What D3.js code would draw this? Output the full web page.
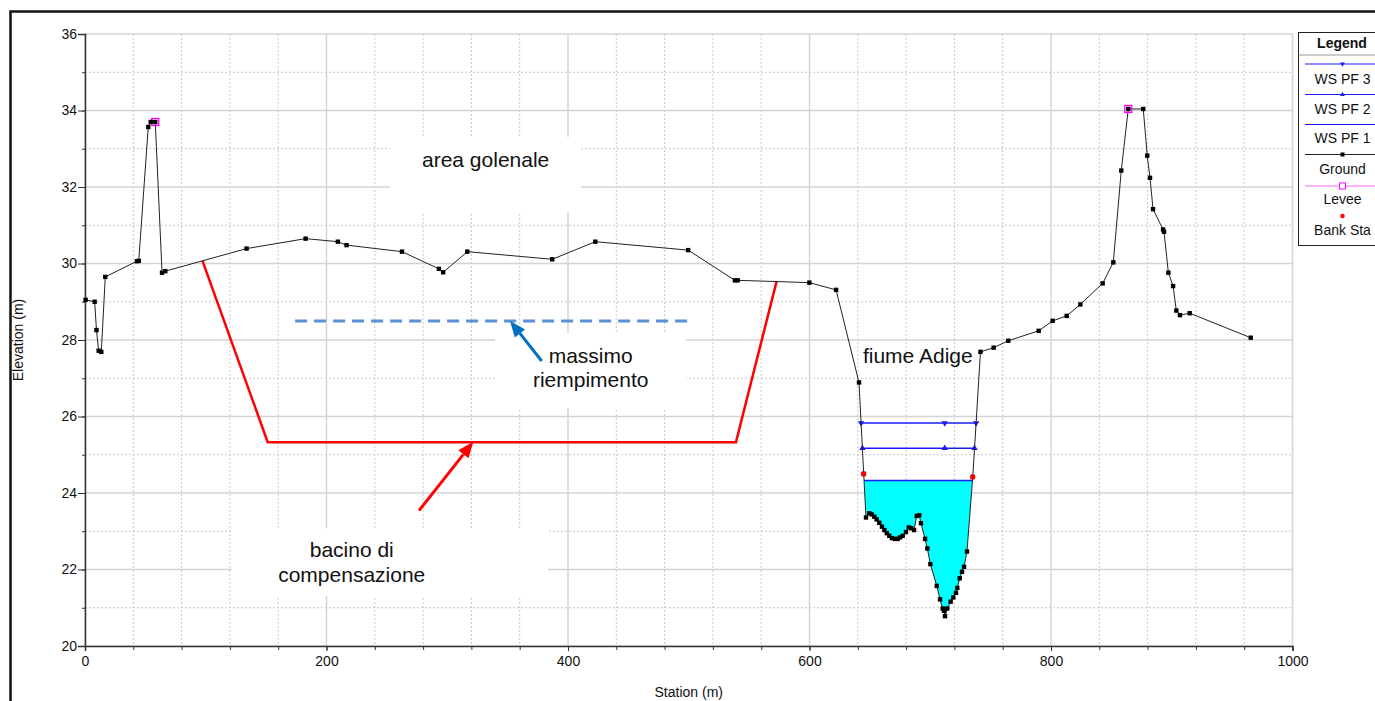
<!DOCTYPE html>
<html><head><meta charset="utf-8">
<script src="https://cdn.jsdelivr.net/npm/d3@7"></script>
<style>
html,body{margin:0;padding:0;background:#fff;overflow:hidden}
svg{display:block;font-family:"Liberation Sans",Arial,sans-serif}
</style></head><body>
<svg id="chart" width="1375" height="701"></svg>
<script>
// Cross section: ground survey points (station m, elevation m)
const groundStation = [0.5, 8, 9.5, 11.3, 13.5, 16.8, 43, 44.5, 52.4, 54.4, 58.2, 63.8, 66.5,
  133.8, 182.7, 209.4, 216.6, 262.5, 293.1, 296.6, 316.6, 386.9, 422.6, 499.5, 538.2, 540.5,
  599.9, 622, 641, 644.9, 646.8, 649.5, 651.5, 653.7, 655.6, 657.8, 660, 662, 664, 666.1,
  668.3, 670.8, 673, 675, 677.2, 679.9, 682.2, 684.3, 686.6, 688.8, 690.9, 692.3, 695.7,
  697.6, 700.1, 705.4, 708.1, 710.3, 711.4, 712.2, 714.1, 716.9, 719.1, 721.3, 722.4,
  724.4, 726.3, 728, 730.4, 735.2, 741.6, 752.5, 764.6, 789.8, 801.4, 813, 824.3, 842.8,
  851.6, 858.2, 864, 876.4, 879.7, 882, 884.5, 892.8, 893.6, 897.2, 901.1, 903.8, 906.8,
  914.9, 965.4];
const groundElevation = [29.05, 29.0, 28.26, 27.72, 27.69, 29.65, 30.06, 30.07, 33.57, 33.70, 33.70, 29.76, 29.80,
  30.39, 30.65, 30.57, 30.48, 30.31, 29.86, 29.77, 30.31, 30.11, 30.57, 30.35, 29.56, 29.56,
  29.50, 29.31, 26.89, 24.50, 23.36, 23.47, 23.44, 23.38, 23.31, 23.22, 23.12, 23.03, 22.95, 22.88,
  22.82, 22.80, 22.80, 22.84, 22.88, 22.98, 23.10, 23.08, 23.03, 23.40, 23.42, 23.21, 22.80,
  22.55, 22.14, 21.57, 21.22, 20.98, 20.92, 20.78, 20.98, 21.16, 21.27, 21.39, 21.52,
  21.77, 21.94, 22.07, 22.47, 24.42, 27.69, 27.80, 27.98, 28.24, 28.50, 28.63, 28.93, 29.48,
  30.03, 32.43, 34.04, 34.04, 32.82, 32.24, 31.42, 30.89, 30.83, 29.76, 29.41, 28.77, 28.65,
  28.70, 28.06];

const leveeStation = [58.2, 864];
const leveeElevation = [33.70, 34.04];
const bankStation = [644.9, 735.2];
const bankElevation = [24.50, 24.42];

// Water surface profiles
const wsProfiles = ["WS PF 3", "WS PF 2", "WS PF 1"];
const wsElevation = [25.83, 25.17, 24.33];
const wsMarkerStation = 712;

// Compensation basin outline and maximum filling level
const basinStation = [97.3, 151.3, 539.1, 572.8];
const basinElevation = [30.07, 25.33, 25.33, 29.54];
const maxFillStation = [174, 504];
const maxFillElevation = 28.5;

// Axis ticks
const xTicks = [0, 200, 400, 600, 800, 1000];
const xMinorTicks = d3.range(0, 1001, 40);
const yTicks = [20, 22, 24, 26, 28, 30, 32, 34, 36];
const yMinorTicks = d3.range(20, 37, 1);

const legendLabels = ["WS PF 3", "WS PF 2", "WS PF 1", "Ground", "Levee", "Bank Sta"];

const svg = d3.select("#chart");
const W = 1375, H = 701;
const x = d3.scaleLinear().domain([0, 1000]).range([85, 1292.5]);
const y = d3.scaleLinear().domain([20, 36]).range([646, 34]);

const ground = groundStation.map((s, i) => [s, groundElevation[i]]);

// outer frame
svg.append("rect").attr("x", 10.5).attr("y", 11.5).attr("width", W + 20).attr("height", H + 20)
  .attr("fill", "#fff").attr("stroke", "#111").attr("stroke-width", 2.5);

// grid
const grid = svg.append("g");
xMinorTicks.filter(v => v % 200 !== 0).forEach(v => {
  grid.append("line").attr("x1", x(v)).attr("x2", x(v)).attr("y1", y(36)).attr("y2", y(20))
    .attr("stroke", "#c8c8c8").attr("stroke-width", 1).attr("stroke-dasharray", "2,2");
});
yMinorTicks.filter(v => v % 2 !== 0).forEach(v => {
  grid.append("line").attr("x1", x(0)).attr("x2", x(1000)).attr("y1", y(v)).attr("y2", y(v))
    .attr("stroke", "#c8c8c8").attr("stroke-width", 1).attr("stroke-dasharray", "2,2");
});
xTicks.forEach(v => {
  grid.append("line").attr("x1", x(v)).attr("x2", x(v)).attr("y1", y(36)).attr("y2", y(20))
    .attr("stroke", "#d4d4d4").attr("stroke-width", 1.5);
});
yTicks.forEach(v => {
  grid.append("line").attr("x1", x(0)).attr("x2", x(1000)).attr("y1", y(v)).attr("y2", y(v))
    .attr("stroke", "#d4d4d4").attr("stroke-width", 1.5);
});

// annotation text boxes (white background hides the grid behind)
const notes = [
  { lines: ["area golenale"], s0: 252.6, s1: 410.8, e0: 33.31, e1: 31.35, cs: 331.8, base: [32.53] },
  { lines: ["massimo", "riempimento"], s0: 339.5, s1: 497.7, e0: 28.18, e1: 26.22, cs: 418.8, base: [27.40, 26.77] },
  { lines: ["bacino di", "compensazione"], s0: 121.5, s1: 383.4, e0: 23.08, e1: 21.30, cs: 220.9, base: [22.33, 21.68] }
];
notes.forEach(n => {
  svg.append("rect").attr("x", x(n.s0)).attr("y", y(n.e0))
    .attr("width", x(n.s1) - x(n.s0)).attr("height", y(n.e1) - y(n.e0)).attr("fill", "#fff");
});

// axes
const axisColor = "#333";
const gx = svg.append("g").attr("transform", `translate(0,${y(20)})`);
gx.call(d3.axisBottom(x).tickValues(xMinorTicks).tickSize(4).tickFormat(""));
gx.call(g => g.selectAll("path").remove());
const gx2 = svg.append("g").attr("transform", `translate(0,${y(20)})`)
  .call(d3.axisBottom(x).tickValues(xTicks).tickSize(5).tickPadding(5).tickFormat(d3.format("d")));
const gy = svg.append("g").attr("transform", `translate(${x(0)},0)`);
gy.call(d3.axisLeft(y).tickValues(yMinorTicks).tickSize(3).tickFormat(""));
gy.call(g => g.selectAll("path").remove());
const gy2 = svg.append("g").attr("transform", `translate(${x(0)},0)`)
  .call(d3.axisLeft(y).tickValues(yTicks).tickSize(7).tickPadding(1).tickFormat(d3.format("d")));
svg.selectAll(".domain").attr("stroke", axisColor).attr("stroke-width", 1.5);
svg.selectAll(".tick line").attr("stroke", axisColor);
svg.selectAll(".tick text").attr("font-size", 14).attr("fill", "#111")
  .attr("font-family", '"Liberation Sans",Arial,sans-serif');

svg.append("text").attr("x", (x(0) + x(1000)) / 2).attr("y", 697).attr("text-anchor", "middle")
  .attr("font-size", 14).attr("fill", "#111").text("Station (m)");
svg.append("text").attr("transform", `translate(23,${(y(20) + y(36)) / 2}) rotate(-90)`)
  .attr("text-anchor", "middle").attr("font-size", 14).attr("fill", "#111").text("Elevation (m)");

// water surface extent where the level meets the ground on both sides of the channel
function wsExtent(level) {
  let iMin = 0;
  ground.forEach((p, i) => { if (p[0] > bankStation[0] && p[0] < bankStation[1] && p[1] < ground[iMin][1]) iMin = i; });
  if (!(ground[iMin][0] > bankStation[0])) iMin = d3.minIndex(ground, p => p[1]);
  let l = iMin; while (l > 0 && ground[l - 1][1] < level) l--;
  let r = iMin; while (r < ground.length - 1 && ground[r + 1][1] < level) r++;
  const a = ground[l - 1], b = ground[l];
  const sl = a[0] + (b[0] - a[0]) * (a[1] - level) / (a[1] - b[1]);
  const c = ground[r], d = ground[r + 1];
  const sr = c[0] + (d[0] - c[0]) * (level - c[1]) / (d[1] - c[1]);
  return { sl, sr, inner: ground.slice(l, r + 1) };
}

// water fill below the lowest profile
const pf1 = wsExtent(wsElevation[2]);
const wetPts = [[pf1.sl, wsElevation[2]], ...pf1.inner, [pf1.sr, wsElevation[2]]];
svg.append("path").datum(wetPts)
  .attr("d", d3.area().x(d => x(d[0])).y0(y(wsElevation[2])).y1(d => y(d[1])))
  .attr("fill", "#00ffff");

// red basin outline
const basin = basinStation.map((s, i) => [s, basinElevation[i]]);
svg.append("path").datum(basin).attr("d", d3.line().x(d => x(d[0])).y(d => y(d[1])))
  .attr("fill", "none").attr("stroke", "#ff0000").attr("stroke-width", 2.5);

// maximum filling level (dashed)
svg.append("line").attr("x1", x(maxFillStation[0])).attr("x2", x(maxFillStation[1]))
  .attr("y1", y(maxFillElevation)).attr("y2", y(maxFillElevation))
  .attr("stroke", "#5b8fd6").attr("stroke-width", 3).attr("stroke-dasharray", "12,7");

// arrows
function arrow(s0, e0, s1, e1, color) {
  const x0 = x(s0), y0 = y(e0), x1 = x(s1), y1 = y(e1);
  const ang = Math.atan2(y1 - y0, x1 - x0);
  const hl = 16, hw = 6.5;
  const bx = x1 - hl * Math.cos(ang), by = y1 - hl * Math.sin(ang);
  svg.append("line").attr("x1", x0).attr("y1", y0).attr("x2", bx).attr("y2", by)
    .attr("stroke", color).attr("stroke-width", 3);
  const px = -Math.sin(ang) * hw, py = Math.cos(ang) * hw;
  svg.append("path").attr("d", `M${x1},${y1}L${bx + px},${by + py}L${bx - px},${by - py}Z`).attr("fill", color);
}
arrow(378.2, 27.45, 352, 28.50, "#0070c0");
arrow(276.6, 23.54, 321.6, 25.34, "#ff0000");

// annotation texts
notes.forEach(n => {
  n.lines.forEach((t, i) => {
    svg.append("text").attr("x", x(n.cs)).attr("y", y(n.base[i])).attr("text-anchor", "middle")
      .attr("font-size", 21).attr("fill", "#111").text(t);
  });
});
svg.append("text").attr("x", x(689.7)).attr("y", y(27.40)).attr("text-anchor", "middle")
  .attr("font-size", 21).attr("fill", "#111").text("fiume Adige");

// water surface lines
const wsColor = "#1a1aff";
const triDown = d3.symbol().type(d3.symbolTriangle).size(18);
wsElevation.forEach((lev, k) => {
  const ext = wsExtent(lev);
  svg.append("line").attr("x1", x(ext.sl)).attr("x2", x(ext.sr)).attr("y1", y(lev)).attr("y2", y(lev))
    .attr("stroke", wsColor).attr("stroke-width", 1.5);
  if (k < 2) {
    [ext.sl, wsMarkerStation, ext.sr].forEach(s => {
      svg.append("path").attr("d", triDown())
        .attr("transform", `translate(${x(s)},${y(lev)}) rotate(${k === 0 ? 180 : 0})`)
        .attr("fill", wsColor);
    });
  }
});

// ground line and markers
svg.append("path").datum(ground).attr("d", d3.line().x(d => x(d[0])).y(d => y(d[1])))
  .attr("fill", "none").attr("stroke", "#222").attr("stroke-width", 1);

// levee markers
svg.selectAll(".levee").data(leveeStation).join("rect")
  .attr("x", (d) => x(d) - 3.5).attr("y", (d, i) => y(leveeElevation[i]) - 3.5)
  .attr("width", 7).attr("height", 7).attr("fill", "none").attr("stroke", "#ff00ff").attr("stroke-width", 1.3);

svg.selectAll(".gpt").data(ground).join("rect")
  .attr("x", d => x(d[0]) - 2.2).attr("y", d => y(d[1]) - 2.2)
  .attr("width", 4.4).attr("height", 4.4).attr("fill", "#000");

// bank stations
svg.selectAll(".bank").data(bankStation).join("circle")
  .attr("cx", d => x(d)).attr("cy", (d, i) => y(bankElevation[i])).attr("r", 2.6).attr("fill", "#ff0000");

// legend
const lg = svg.append("g");
lg.append("rect").attr("x", 1298.5).attr("y", 32.5).attr("width", 100).attr("height", 213)
  .attr("fill", "#fff").attr("stroke", "#222").attr("stroke-width", 1);
lg.append("text").attr("x", 1342).attr("y", 47.5).attr("text-anchor", "middle")
  .attr("font-size", 14).attr("font-weight", "bold").attr("fill", "#111").text("Legend");
lg.append("line").attr("x1", 1298.5).attr("x2", 1400).attr("y1", 55).attr("y2", 55)
  .attr("stroke", "#999").attr("stroke-width", 1);
const legendLineY = [64, 94.5, 124.5, 154.5, 186, 216];
const legendTextY = [84, 113.5, 143, 174, 204, 234.5];
const mx = 1342.5;
legendLabels.forEach((lab, i) => {
  const ly = legendLineY[i];
  if (i < 3) {
    lg.append("line").attr("x1", 1305).attr("x2", 1400).attr("y1", ly).attr("y2", ly)
      .attr("stroke", wsColor).attr("stroke-width", 1.2);
    if (i < 2) lg.append("path").attr("d", d3.symbol().type(d3.symbolTriangle).size(10)())
      .attr("transform", `translate(${mx},${ly}) rotate(${i === 0 ? 180 : 0})`).attr("fill", wsColor);
  } else if (i === 3) {
    lg.append("line").attr("x1", 1305).attr("x2", 1400).attr("y1", ly).attr("y2", ly)
      .attr("stroke", "#222").attr("stroke-width", 1);
    lg.append("rect").attr("x", mx - 2).attr("y", ly - 2).attr("width", 4).attr("height", 4).attr("fill", "#000");
  } else if (i === 4) {
    lg.append("line").attr("x1", 1305).attr("x2", 1400).attr("y1", ly).attr("y2", ly)
      .attr("stroke", "#ff66ff").attr("stroke-width", 1);
    lg.append("rect").attr("x", mx - 3).attr("y", ly - 3).attr("width", 6).attr("height", 6)
      .attr("fill", "#fff").attr("stroke", "#ff00ff").attr("stroke-width", 1);
  } else {
    lg.append("circle").attr("cx", mx).attr("cy", ly).attr("r", 2.3).attr("fill", "#ff0000");
  }
  lg.append("text").attr("x", mx).attr("y", legendTextY[i]).attr("text-anchor", "middle")
    .attr("font-size", 14).attr("fill", "#111").text(lab);
});
</script>
</body></html>
